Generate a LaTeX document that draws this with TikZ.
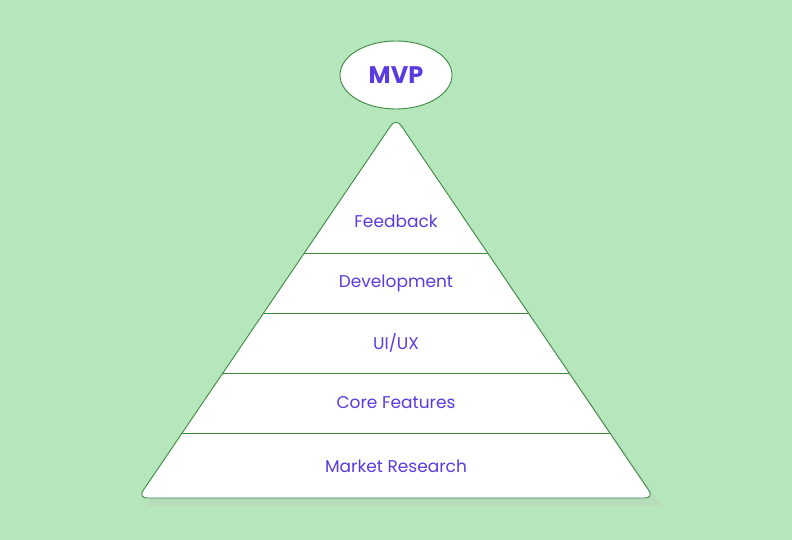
\documentclass[tikz,border=0pt]{standalone}
\usepackage{fontspec}
\setmainfont{Poppins}
\usetikzlibrary{calc,shapes.geometric}
\definecolor{bg}{HTML}{B5E6BC}
\definecolor{edge}{HTML}{3C8A3F}
\definecolor{txt}{HTML}{5A3BE0}
\tikzset{
  lbl/.style={text=txt,font=\fontsize{17}{20}\selectfont},
  divider/.style={draw=edge,line width=0.9pt},
}
\begin{document}
\begin{tikzpicture}[x=1pt,y=-1pt]
\fill[bg] (0,0) rectangle (792,540);
\useasboundingbox (0,0) rectangle (792,540);
\coordinate (A) at (396,118);
\coordinate (L) at (138,498);
\coordinate (R) at (654,498);
\fill[black!25,opacity=0.25] (400,124) -- (662,506) -- (146,506) -- cycle;
\draw[edge,fill=white,line width=0.9pt,rounded corners=9pt] (A) -- (R) -- (L) -- cycle;
\foreach \y/\n in {253/a,313/b,373/c,433/d}{
  \pgfmathsetmacro{\t}{(\y-118)/380}
  \coordinate (l\n) at ($(A)!\t!(L)$);
  \coordinate (r\n) at ($(A)!\t!(R)$);
  \draw[divider] (l\n) -- (r\n);
}
\node[ellipse,draw=edge,fill=white,line width=0.9pt,minimum width=112pt,minimum height=68pt,text=txt,font=\fontsize{24}{28}\selectfont\bfseries] (mvp) at (396,75) {MVP};
\node[lbl] (fb) at (396,221) {Feedback};
\node[lbl] (dev) at (396,283) {Development};
\node[lbl] (ui) at (396,343) {UI/UX};
\node[lbl] (cf) at (396,403) {Core Features};
\node[lbl] (mr) at (396,466) {Market Research};
\end{tikzpicture}
\end{document}
